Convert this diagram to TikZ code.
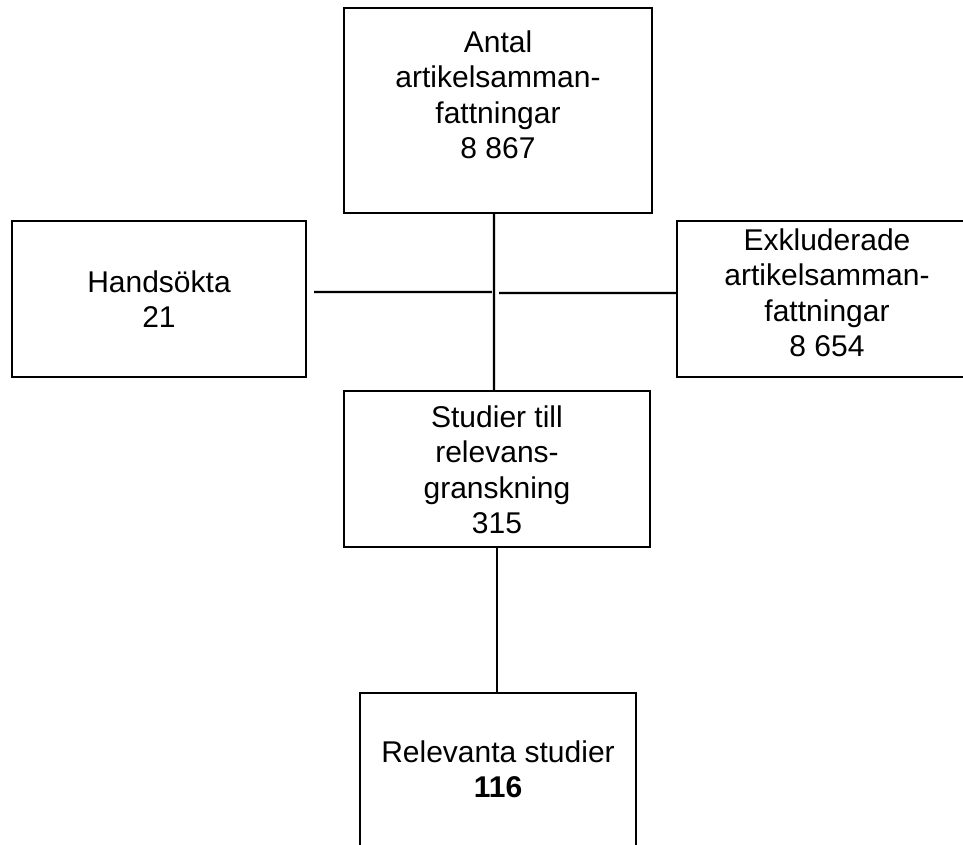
\documentclass[tikz,border=0pt]{standalone}
\usepackage{fontspec}
\setmainfont{Liberation Sans}
\begin{document}
\begin{tikzpicture}[x=0.75pt,y=-0.75pt,
  box/.style={draw=black, line width=1.9pt, rectangle, inner sep=0pt, fill=white},
  lbl/.style={anchor=north, inner sep=0pt, align=center, font=\fontsize{22.5}{26.6}\selectfont},
  conn/.style={draw=black, line width=1.6pt},
  shadowline/.style={draw=black!14, line width=2.6pt, shift={(1.5,2.5)}}]
\useasboundingbox (0,0) rectangle (963,844);
\clip (0,0) rectangle (963,844);
% boxes
\node[box, minimum width=308*0.75pt, minimum height=205*0.75pt] (top) at (498,110.5) {};
\node[box, minimum width=294*0.75pt, minimum height=156*0.75pt] (hand) at (159,299) {};
\node[box, minimum width=300*0.75pt, minimum height=156*0.75pt] (ex) at (827,299) {};
\node[box, minimum width=306*0.75pt, minimum height=156*0.75pt] (mid) at (497,469) {};
\node[box, minimum width=276*0.75pt, minimum height=207*0.75pt] (bot) at (498,796.5) {};
% texts
\node[lbl] (ttop) at (498,30.5) {Antal\\artikelsamman-\\fattningar\\8 867};
\node[lbl] (thand) at (159,270.5) {Handsökta\\21};
\node[lbl] (tex) at (827,228.5) {Exkluderade\\artikelsamman-\\fattningar\\8 654};
\node[lbl] (tmid) at (497,405.5) {Studier till\\relevans-\\granskning\\315};
\node[lbl] (tbot) at (498,740.5) {Relevanta studier\\\textbf{116}};
% connector coordinates
\coordinate (vx) at (494,0);
\coordinate (vx2) at (497,0);
\coordinate (hl) at (314,292);
\coordinate (hr) at (492,292);
\coordinate (rl) at (499,293);
% shadows
\draw[shadowline] (hl) -- (hr);
\draw[shadowline] (rl) -- (rl -| ex.west);
\draw[shadowline] (top.south -| vx) -- (mid.north -| vx);
% connectors
\draw[conn] (top.south -| vx) -- (mid.north -| vx);
\draw[conn] (hl) -- (hr);
\draw[conn] (rl) -- (rl -| ex.west);
\draw[conn] (mid.south -| vx2) -- (bot.north -| vx2);
\end{tikzpicture}
\end{document}
